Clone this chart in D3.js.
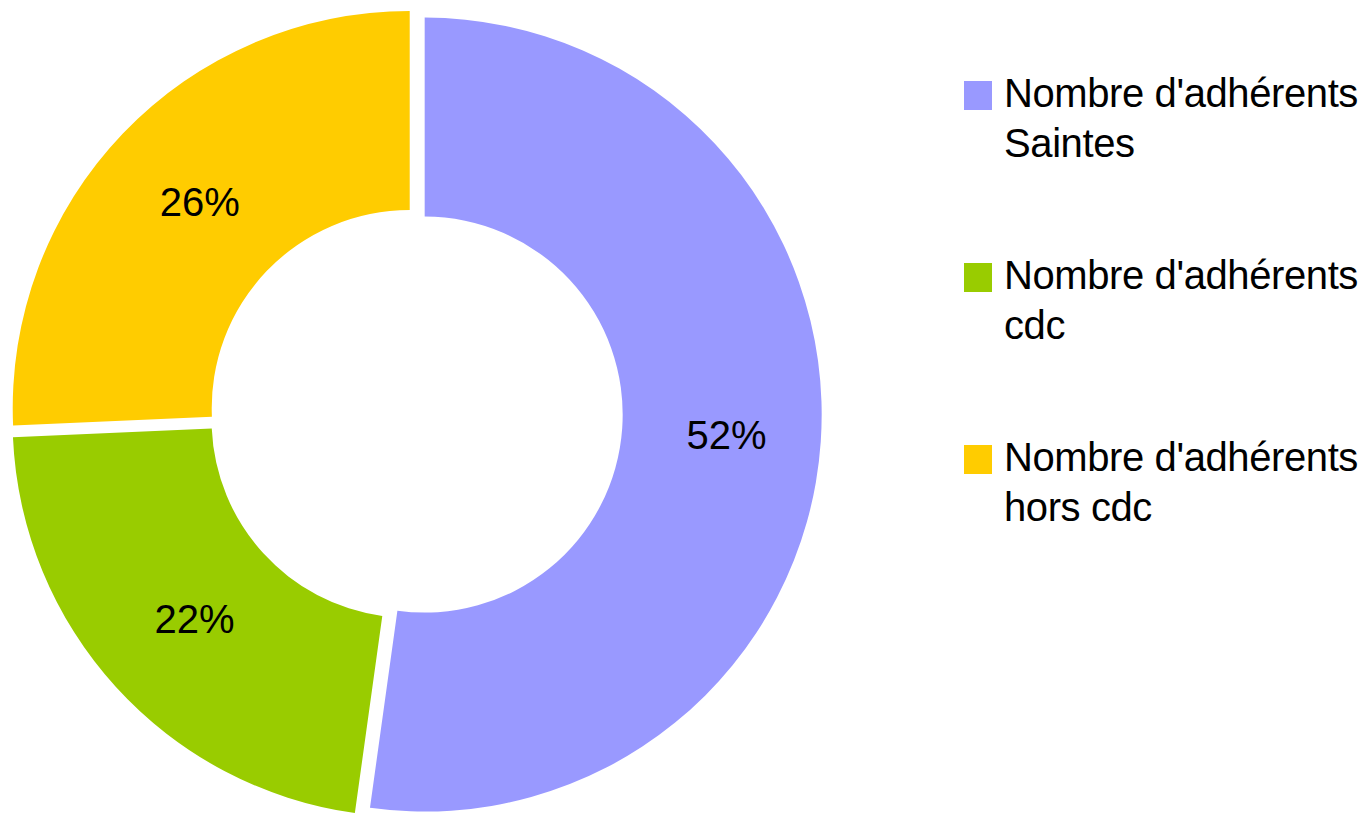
<!DOCTYPE html>
<html>
<head>
<meta charset="utf-8">
<script src="https://cdn.jsdelivr.net/npm/d3@7"></script>
<style>
  html, body { margin: 0; padding: 0; background: #fff; }
  svg { display: block; font-family: "Liberation Sans", Arial, sans-serif; }
</style>
</head>
<body>
<script>
var CATEGORIES = ["Nombre d'adhérents Saintes", "Nombre d'adhérents cdc", "Nombre d'adhérents hors cdc"];
var LEGEND_LINES = [["Nombre d'adhérents", "Saintes"], ["Nombre d'adhérents", "cdc"], ["Nombre d'adhérents", "hors cdc"]];
// shares (percent)
var VALUES = [52.2, 22.1, 25.7];
var COLORS = ["#9999FF", "#99CC00", "#FFCC00"];

var W = 1366, H = 817;
var CX = 416, CY = 414;
var R_OUT = 397, R_IN = 198;
var EXPLODE = 8.7;

var svg = d3.select("body").append("svg")
    .attr("width", W)
    .attr("height", H);

var total = d3.sum(VALUES);
var pie = d3.pie().sort(null).value(function(d) { return d; });
var arcs = pie(VALUES);

var arc = d3.arc().innerRadius(R_IN).outerRadius(R_OUT);

function offset(d) {
    var a = (d.startAngle + d.endAngle) / 2;
    return [EXPLODE * Math.sin(a), -EXPLODE * Math.cos(a)];
}

var slices = svg.append("g")
    .attr("transform", "translate(" + CX + "," + CY + ")")
    .selectAll(".slice")
    .data(arcs)
    .enter().append("g")
    .attr("class", "slice")
    .attr("transform", function(d) { var o = offset(d); return "translate(" + o[0] + "," + o[1] + ")"; });

slices.append("path")
    .attr("d", arc)
    .style("fill", function(d, i) { return COLORS[i]; });

slices.append("text")
    .attr("transform", function(d) { var c = arc.centroid(d); return "translate(" + (c[0] + 5) + "," + (c[1] - 1) + ")"; })
    .attr("text-anchor", "middle")
    .attr("dy", "0.36em")
    .style("font-size", "40px")
    .style("fill", "#000")
    .text(function(d) { return Math.round(d.value / total * 100) + "%"; });

// legend
var legend = svg.append("g")
    .selectAll(".legend")
    .data(CATEGORIES)
    .enter().append("g")
    .attr("class", "legend")
    .attr("transform", function(d, i) { return "translate(964," + (81 + i * 182) + ")"; });

legend.append("rect")
    .attr("width", 28)
    .attr("height", 29)
    .style("fill", function(d, i) { return COLORS[i]; });

legend.append("text")
    .attr("x", 40)
    .attr("y", 26)
    .style("font-size", "40px")
    .style("letter-spacing", "-0.4px")
    .style("fill", "#000")
    .selectAll("tspan")
    .data(function(d, i) { return LEGEND_LINES[i]; })
    .enter().append("tspan")
    .attr("x", 40)
    .attr("dy", function(d, j) { return j === 0 ? 0 : 50; })
    .text(function(d) { return d; });
</script>
</body>
</html>
